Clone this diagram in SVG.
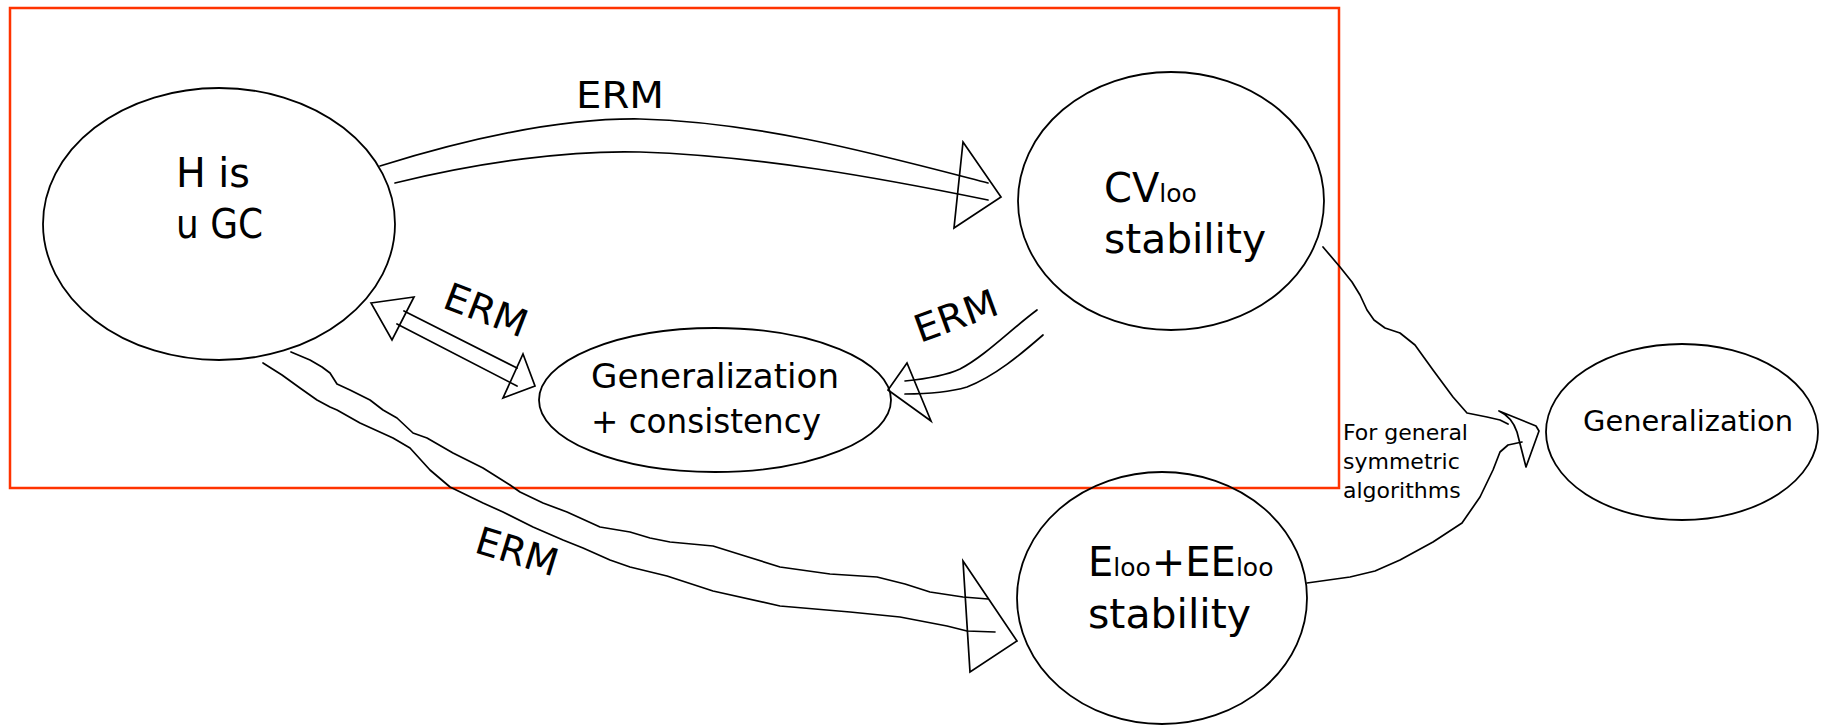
<svg xmlns="http://www.w3.org/2000/svg" width="1824" height="725" viewBox="0 0 1824 725">
  <style>
    .node { fill: none; stroke: #000; stroke-width: 1.8; }
    .line { fill: none; stroke: #000; stroke-width: 1.7; stroke-linejoin: round; stroke-linecap: round; }
    .head { fill: none; stroke: #000; stroke-width: 1.7; stroke-linejoin: miter; }
    .frame { fill: none; stroke: #FF3300; stroke-width: 2.5; }
    text { font-family: "DejaVu Sans", "Liberation Sans", sans-serif; fill: #000; }
    .big { font-size: 40px; }
    .mid { font-size: 34px; }
    .erm { font-size: 38px; }
    .sub { font-size: 25px; }
    .note { font-size: 22px; }
  </style>
  <rect width="1824" height="725" fill="#fff"/>

  <!-- highlighted region -->
  <rect class="frame" x="10" y="8" width="1329" height="480"/>

  <!-- nodes -->
  <g id="node-h-ugc">
    <ellipse class="node" cx="219" cy="224" rx="176" ry="136"/>
    <text class="big" x="176" y="187" textLength="74" lengthAdjust="spacingAndGlyphs">H is</text>
    <text class="big" x="176" y="238" textLength="87" lengthAdjust="spacingAndGlyphs">u GC</text>
  </g>

  <g id="node-cvloo">
    <ellipse class="node" cx="1171" cy="201" rx="153" ry="129"/>
    <text class="big" x="1104" y="202">CV<tspan class="sub">loo</tspan></text>
    <text class="big" x="1104" y="253" textLength="162" lengthAdjust="spacingAndGlyphs">stability</text>
  </g>

  <g id="node-gen-consistency">
    <ellipse class="node" cx="715" cy="400" rx="176" ry="72"/>
    <text class="mid" x="591" y="388" textLength="248" lengthAdjust="spacingAndGlyphs">Generalization</text>
    <text class="mid" x="591" y="433" textLength="230" lengthAdjust="spacingAndGlyphs">+ consistency</text>
  </g>

  <g id="node-eloo">
    <ellipse class="node" cx="1162" cy="598" rx="145" ry="126"/>
    <text class="big" x="1088" y="576">E<tspan class="sub">loo</tspan><tspan dx="1">+</tspan>EE<tspan class="sub">loo</tspan></text>
    <text class="big" x="1088" y="628" textLength="163" lengthAdjust="spacingAndGlyphs">stability</text>
  </g>

  <g id="node-generalization">
    <ellipse class="node" cx="1682" cy="432" rx="136" ry="88"/>
    <text x="1583" y="431" font-size="29" textLength="210" lengthAdjust="spacingAndGlyphs">Generalization</text>
  </g>

  <!-- connectors -->
  <g id="connectors">
    <!-- H is u GC to CVloo -->
    <path class="line" d="M380,166 C470,138 560,118 640,119 C760,122 880,155 988,183"/>
    <path class="line" d="M395,183 C480,162 570,150 640,152 C760,156 880,178 988,200"/>
    <polygon class="head" points="963,142 1001,197 954,228"/>
    <text class="erm" x="576" y="108" font-size="44" textLength="88" lengthAdjust="spacingAndGlyphs">ERM</text>

    <!-- H is u GC to Generalization + consistency, both ways -->
    <path class="line" d="M404,311 L517,368"/>
    <path class="line" d="M397,324 L517,386"/>
    <polygon class="head" points="371,303 414,297 392,340"/>
    <polygon class="head" points="523,354 535,386 503,398"/>
    <text class="erm" transform="translate(441,307) rotate(21)" textLength="86" lengthAdjust="spacingAndGlyphs">ERM</text>

    <!-- CVloo to Generalization + consistency -->
    <path class="line" d="M1037,310 C1010,330 985,356 960,369 C945,376 925,379 905,381"/>
    <path class="line" d="M1043,335 C1020,355 995,376 967,387 C950,392 930,394 905,394"/>
    <polygon class="head" points="907,363 888,390 931,421"/>
    <text class="erm" transform="translate(920,343) rotate(-20)" textLength="86" lengthAdjust="spacingAndGlyphs">ERM</text>

    <!-- H is u GC to Eloo+EEloo -->
    <polyline class="line" points="291,352 310,360 322,367 330,373 337,384 350,390 370,400 383,410 397,418 413,433 427,438 453,453 483,468 510,485 520,492 543,503 567,512 600,527 630,532 650,538 670,542 713,546 745,556 780,567 830,574 877,577 905,584 930,592 963,597 988,599"/>
    <polyline class="line" points="263,363 282,375 300,388 317,400 330,407 337,410 360,423 393,438 410,448 430,470 450,487 483,503 503,512 533,527 563,540 583,548 610,560 630,567 667,576 713,591 780,606 850,612 900,617 947,626 967,631 995,632"/>
    <polygon class="head" points="963,561 1017,641 970,672"/>
    <text class="erm" transform="translate(473,552) rotate(17)" textLength="84" lengthAdjust="spacingAndGlyphs">ERM</text>

    <!-- CVloo and Eloo+EEloo merging into Generalization -->
    <polyline class="line" points="1323,247 1340,267 1352,282 1360,295 1367,310 1374,320 1385,328 1400,333 1415,345 1433,370 1453,397 1467,413 1487,417 1500,420 1508,424"/>
    <polyline class="line" points="1307,583 1350,577 1375,571 1400,560 1433,542 1462,523 1480,497 1493,470 1500,452 1508,445 1522,442"/>
    <path class="line" d="M1499,411 L1536,426 L1539,431 L1526,467 M1499,411 Q1512,417 1517,432 L1526,467"/>
    <text class="note" x="1343" y="440">For general</text>
    <text class="note" x="1343" y="469">symmetric</text>
    <text class="note" x="1343" y="498">algorithms</text>
  </g>
</svg>
